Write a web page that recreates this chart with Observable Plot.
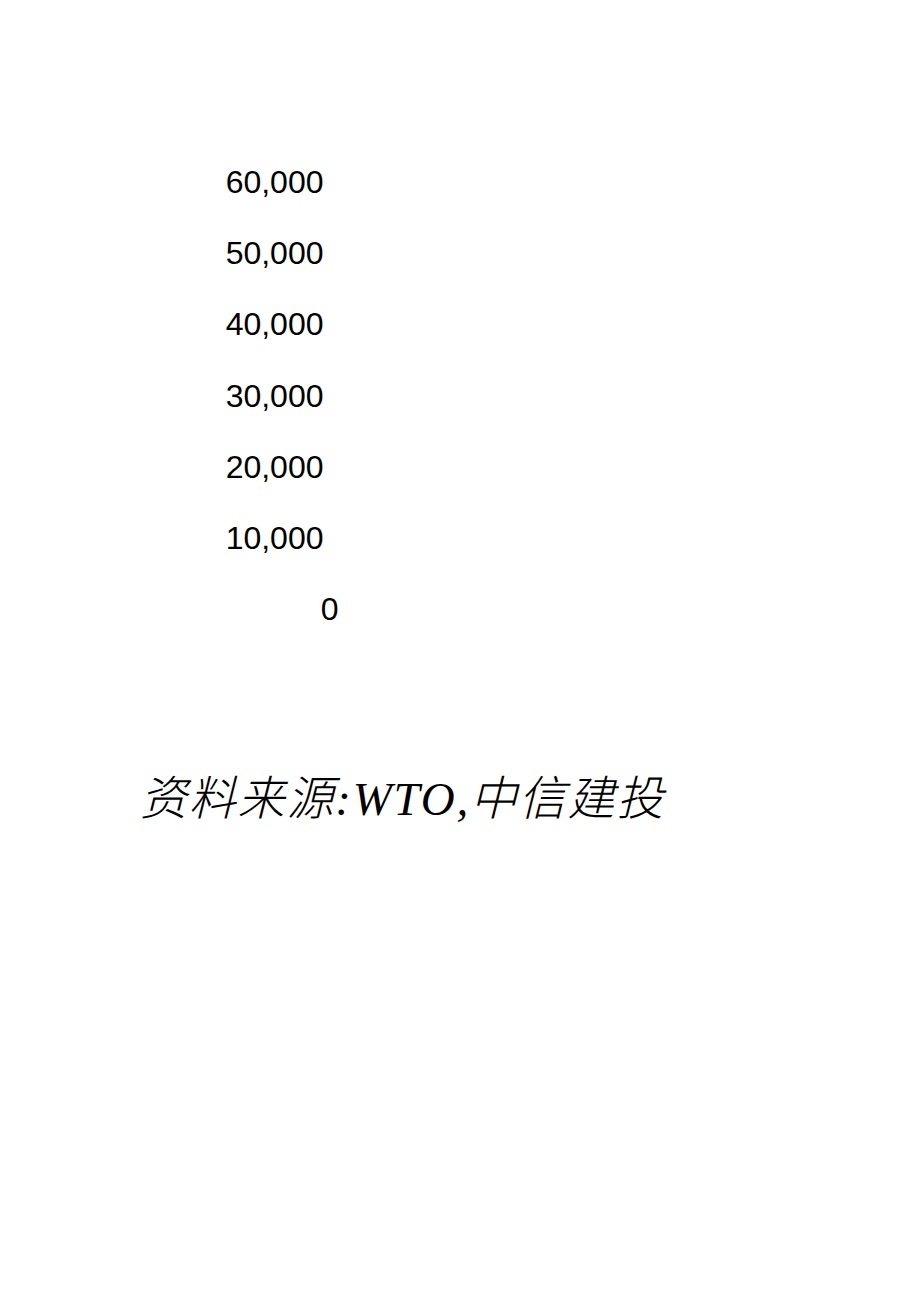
<!DOCTYPE html>
<html>
<head>
<meta charset="utf-8">
<script src="https://cdn.jsdelivr.net/npm/d3@7"></script>
<script src="https://cdn.jsdelivr.net/npm/@observablehq/plot@0.6"></script>
<style>
  html, body { margin: 0; padding: 0; background: #fff; }
  #wrap { position: relative; width: 920px; height: 1301px; }
  #caption {
    position: absolute; left: 140px; top: 760px;
    font-family: "Liberation Serif", "Noto Sans CJK SC", serif;
    font-style: italic; font-size: 47px; color: #000; white-space: nowrap;
    letter-spacing: 1.8px; font-weight: 300;
  }
</style>
</head>
<body>
<div id="wrap">
  <div id="chart"></div>
  <div id="caption"></div>
</div>
<script>
// Data
const yDomain = [0, 60000];
const yTicks = [10000, 20000, 30000, 40000, 50000, 60000];
const zeroTick = [0];
const captionText = "资料来源:WTO,中信建投";

const chart = Plot.plot({
  width: 920,
  height: 700,
  marginTop: 182.5,
  marginBottom: 91,
  marginLeft: 330,
  marginRight: 40,
  style: { fontFamily: "'Liberation Sans', Arial, sans-serif", color: "#000", background: "#fff" },
  y: { domain: yDomain, axis: null },
  marks: [
    Plot.axisY(yTicks, { tickSize: 0, tickPadding: 7, fontSize: 32, tickFormat: d3.format(","), label: null }),
    Plot.axisY(zeroTick, { tickSize: 0, tickPadding: -8, fontSize: 32, tickFormat: d3.format(","), label: null })
  ]
});
document.getElementById("chart").appendChild(chart);
document.getElementById("caption").textContent = captionText;
</script>
</body>
</html>
